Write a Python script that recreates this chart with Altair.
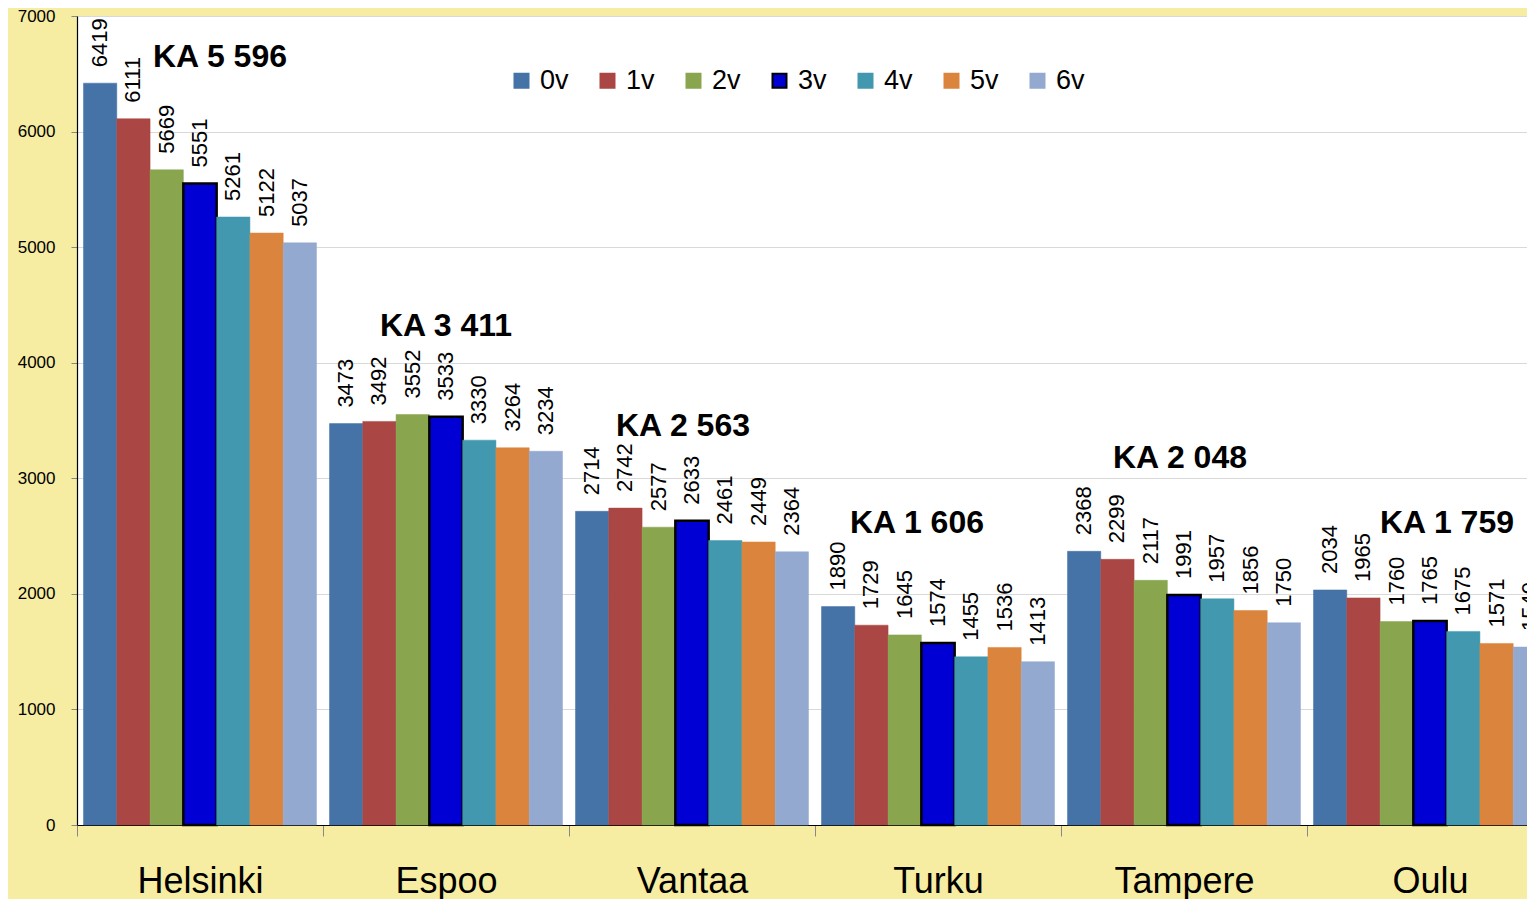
import altair as alt
import pandas as pd

cities = ["Helsinki", "Espoo", "Vantaa", "Turku", "Tampere", "Oulu"]
series = ["0v", "1v", "2v", "3v", "4v", "5v", "6v"]
helsinki = [6419, 6111, 5669, 5551, 5261, 5122, 5037]
espoo = [3473, 3492, 3552, 3533, 3330, 3264, 3234]
vantaa = [2714, 2742, 2577, 2633, 2461, 2449, 2364]
turku = [1890, 1729, 1645, 1574, 1455, 1536, 1413]
tampere = [2368, 2299, 2117, 1991, 1957, 1856, 1750]
oulu = [2034, 1965, 1760, 1765, 1675, 1571, 1540]

# annotation anchors for the "KA" (average) labels, in data units / px offset
ka_label_y = [6559, 4231, 3366, 2527, 3089, 2527]
ka_label_dx = [20, 0, -9, -21, -4, 17]

colors = ["#4572A7", "#AA4643", "#89A54E", "#0000D4", "#4198AF", "#DB843D", "#93A9CF"]
strokes = ["#4572A7", "#AA4643", "#89A54E", "#000000", "#4198AF", "#DB843D", "#93A9CF"]

all_vals = [helsinki, espoo, vantaa, turku, tampere, oulu]
rows = []
for c, vals in zip(cities, all_vals):
    for s, v in zip(series, vals):
        rows.append({"city": c, "series": s, "value": v})
df = pd.DataFrame(rows)

ka_rows = []
for c, vals, ky in zip(cities, all_vals, ka_label_y):
    avg = round(sum(vals) / len(vals))
    ka_rows.append({"city": c, "ka": "KA " + f"{avg:,}".replace(",", " "), "ypos": ky})
df_ka = pd.DataFrame(ka_rows)

FONT = "Liberation Sans"

x_enc = alt.X(
    "city:N", sort=cities,
    scale=alt.Scale(range=[0, 1476], paddingInner=0.0528, paddingOuter=0.0264),
    axis=alt.Axis(title=None, labelAngle=0, labelFontSize=36, labelColor="black",
                  labelBaseline="alphabetic", labelPadding=56, tickSize=11,
                  tickColor="#888888", tickOffset=-123, labelOffset=123,
                  domainColor="black", domainWidth=1.2, labelFont=FONT),
)
xoff_enc = alt.XOffset("series:N", sort=series, scale=alt.Scale(paddingInner=0, paddingOuter=0))
y_enc = alt.Y(
    "value:Q", scale=alt.Scale(domain=[0, 7000], nice=False),
    axis=alt.Axis(title=None, values=list(range(0, 7001, 1000)), format="d",
                  labelFontSize=17, labelColor="black", labelPadding=16, tickSize=6,
                  tickColor="#888888", domainColor="black", domainWidth=1.2,
                  gridColor="#D9D9D9", labelFont=FONT),
)

legend_opts = dict(title=None, orient="none", legendX=431, legendY=51,
                   direction="horizontal", labelFontSize=27, labelFont=FONT,
                   labelColor="black", symbolType="square", symbolSize=196,
                   symbolStrokeWidth=2, labelOffset=5, columnPadding=25, padding=0)

bars = alt.Chart(df).mark_bar().encode(
    x=x_enc,
    xOffset=xoff_enc,
    y=y_enc,
    color=alt.Color("series:N", sort=series, scale=alt.Scale(domain=series, range=colors),
                    legend=alt.Legend(**legend_opts)),
    stroke=alt.Stroke("series:N", sort=series, scale=alt.Scale(domain=series, range=strokes),
                      legend=alt.Legend(**legend_opts)),
    strokeWidth=alt.condition("datum.series == '3v'", alt.value(2.5), alt.value(0.5)),
)

labels = alt.Chart(df).mark_text(
    angle=270, align="left", baseline="middle", dx=16, fontSize=22, font=FONT, color="black"
).encode(
    x=alt.X("city:N", sort=cities),
    xOffset=alt.XOffset("series:N", sort=series),
    y="value:Q",
    text="value:Q",
)

ka_layers = []
for c, dx in zip(cities, ka_label_dx):
    ka_layers.append(
        alt.Chart(df_ka).transform_filter(alt.datum.city == c).mark_text(
            align="center", baseline="alphabetic", fontSize=32, fontWeight="bold",
            font=FONT, color="black", dx=dx
        ).encode(
            x=alt.X("city:N", sort=cities),
            y=alt.Y("ypos:Q"),
            text="ka:N",
        )
    )

chart = alt.layer(bars, labels, *ka_layers).properties(
    width=1450, height=809,
    autosize=alt.AutoSizeParams(type="none"),
    padding={"left": 69, "top": 8, "right": 0, "bottom": 74},
).configure(
    background="#F6EDA2", font=FONT
).configure_view(
    fill="white", strokeWidth=0
)

chart.save("out.html", embed_options={"renderer": "svg", "actions": False})
